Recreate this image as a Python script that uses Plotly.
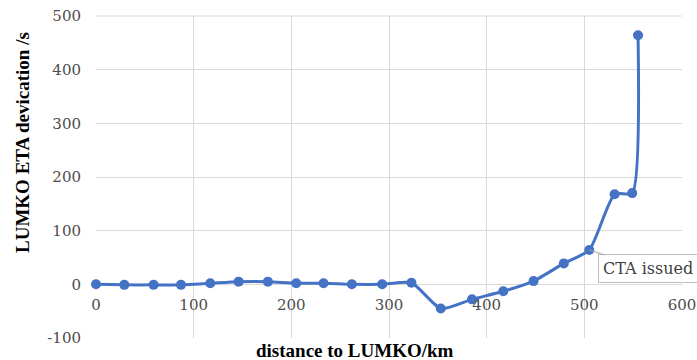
import plotly.graph_objects as go

distance_km = [0, 29, 59, 87, 117, 146, 176, 205, 233, 262, 293, 323, 353, 385, 417, 448, 479, 505, 531, 549, 555]
eta_dev_s = [0, -1, -1, -1, 2, 5, 5, 2, 2, 0, 0, 3, -45, -28, -13, 6, 39, 64, 168, 170, 464]
x_ticks = [0, 100, 200, 300, 400, 500, 600]
y_ticks = [-100, 0, 100, 200, 300, 400, 500]
y_tick_labels = ["-100", "0", "100", "200", "300", "400", "500"]
cta_index = 17

blue = "#4472C4"
grid = "#d9d9d9"
tick_font = dict(family="DejaVu Serif", size=15, color="#4d4d4d")

fig = go.Figure()
fig.add_trace(go.Scatter(
    x=distance_km, y=eta_dev_s, mode="lines+markers",
    line=dict(color=blue, width=3, shape="spline", smoothing=0.6),
    marker=dict(color=blue, size=10),
    showlegend=False, cliponaxis=False,
))

y_min, y_max = y_ticks[0], y_ticks[-1]
zero_pos = (0 - y_min) / (y_max - y_min)

W, H = 697, 360
L, R, T, B = 96, 15, 16, 22

fig.update_layout(
    width=W, height=H,
    margin=dict(l=L, r=R, t=T, b=B, autoexpand=False),
    paper_bgcolor="white", plot_bgcolor="white",
    xaxis=dict(range=[x_ticks[0], x_ticks[-1]], tickvals=x_ticks, showgrid=True,
               gridcolor=grid, gridwidth=1, zeroline=False, showline=False,
               anchor="free", position=zero_pos, ticks="", ticklabelstandoff=10,
               tickfont=tick_font, automargin=False, ticklabeloverflow="allow"),
    yaxis=dict(range=[y_min, y_max], tickvals=y_ticks, ticktext=y_tick_labels,
               showgrid=True, gridcolor=grid, gridwidth=1, zeroline=False,
               showline=False, ticks="", ticklabelstandoff=14, tickfont=tick_font,
               automargin=False, ticklabeloverflow="allow"),
    shapes=[dict(type="line", xref="paper", yref="paper", x0=0, x1=1, y0=1, y1=1,
                 line=dict(color=grid, width=1), layer="below")],
    annotations=[
        dict(x=distance_km[cta_index], y=eta_dev_s[cta_index], xref="x", yref="y",
             text="CTA issued", showarrow=True, arrowhead=0, arrowwidth=1,
             arrowcolor="#a6a6a6", ax=59, ay=19,
             font=dict(family="DejaVu Serif", size=16, color="#404040"),
             bgcolor="white", bordercolor="#bfbfbf", borderwidth=1, borderpad=4),
        dict(x=355, y=350, xref="paper", yref="paper", text="<b>distance to LUMKO/km</b>",
             showarrow=False, font=dict(family="Liberation Serif", size=19, color="black")),
        dict(x=22, y=143, xref="paper", yref="paper", text="<b>LUMKO ETA devication /s</b>",
             showarrow=False, textangle=-90,
             font=dict(family="Liberation Serif", size=19, color="black")),
    ],
)

# convert page-pixel positions of the title annotations to paper coordinates
pw, ph = W - L - R, H - T - B
for a in fig.layout.annotations[1:]:
    px, py = a.x, a.y
    a.x = (px - L) / pw
    a.y = 1 - (py - T) / ph
    a.xanchor = "center"
    a.yanchor = "middle"

fig.write_html(
    "out.html",
    config={"displayModeBar": False},
    post_script="document.body.style.margin='0';document.body.style.overflow='hidden';",
)
